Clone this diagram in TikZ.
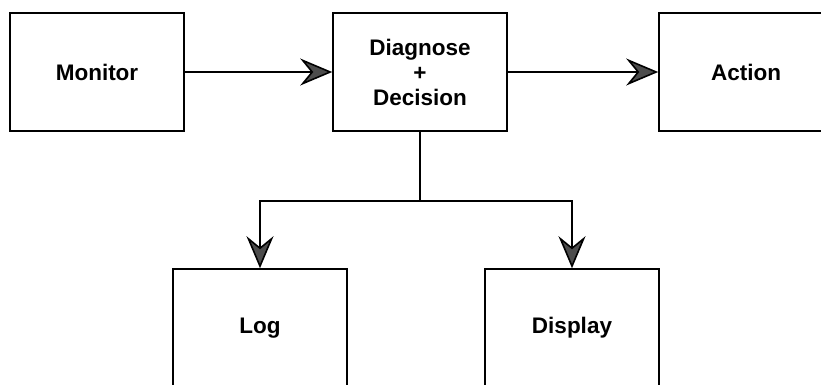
\documentclass[tikz,border=0pt]{standalone}
\usepackage{fontspec}
\setmainfont{Liberation Sans}
\usepackage{tikz}
\usetikzlibrary{arrows.meta}
\usetikzlibrary{positioning}
\tikzset{
    block/.style={
        draw,
        rectangle,
        line width=1.6pt,
        minimum width=174pt,
        minimum height=118pt,
        inner sep=1pt,
        font=\fontsize{22.5}{25}\selectfont\bfseries
    },
    flow/.style={
        draw,
        line width=1.6pt,
        -{Stealth[length=32pt, width=27pt, inset=11pt, fill=black!70]}
    }
}

\begin{document}
\begin{tikzpicture}[
    x = 1pt,
    y = -1pt,
    line join = miter
]
% Picture frame
\useasboundingbox (0,0) rectangle (821,384);
\clip (0,0) rectangle (821,384);

% Define the blocks
\node[block] (monitor) at (97,72) {Monitor};
\node[block, align=center] (diagnose) at (420,72) {Diagnose\\+\\Decision};
\node[block] (action) at (746,72) {Action};
\node[block] (log) at (260,328) {Log};
\node[block] (display) at (572,328) {Display};
\coordinate (split) at (420,201);

% Define the connections
% Top row
\path[flow] (monitor) -- (diagnose);
\path[flow] (diagnose) -- (action);

% Down to the outputs
\draw[line width=1.6pt] (diagnose.south) -- (split);
\path[flow] (split) -| (log.north);
\path[flow] (split) -| (display.north);

\end{tikzpicture}
\end{document}
